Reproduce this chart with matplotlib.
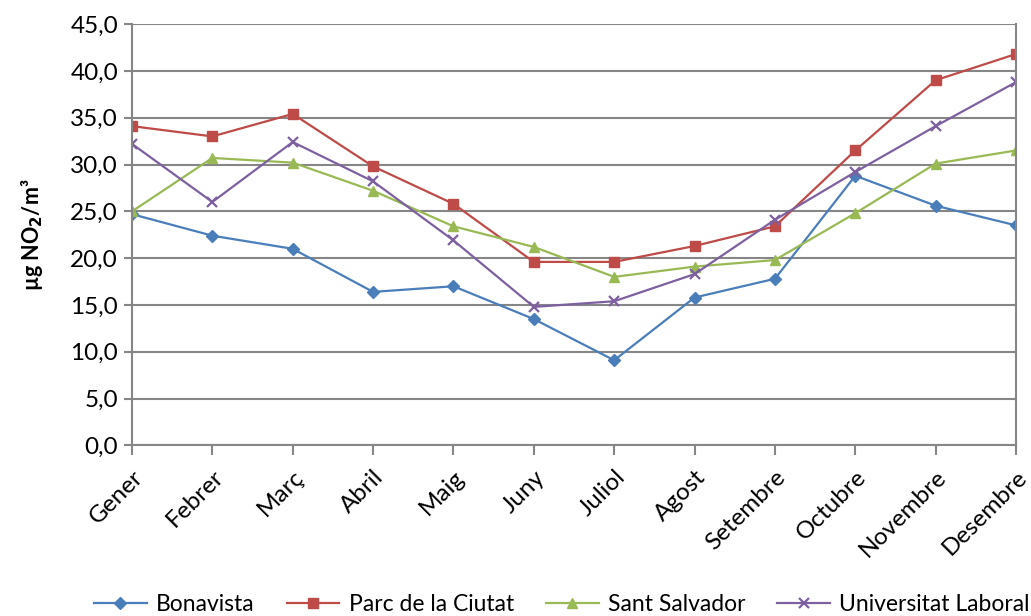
import numpy as np
import matplotlib.pyplot as plt

months = ['Gener', 'Febrer', 'Març', 'Abril', 'Maig', 'Juny', 'Juliol',
          'Agost', 'Setembre', 'Octubre', 'Novembre', 'Desembre']
bonavista = [24.7, 22.4, 21.0, 16.4, 17.0, 13.5, 9.1, 15.8, 17.8, 28.8, 25.6, 23.5]
parc = [34.1, 33.0, 35.4, 29.8, 25.8, 19.6, 19.6, 21.3, 23.4, 31.5, 39.0, 41.8]
salvador = [25.0, 30.7, 30.2, 27.2, 23.4, 21.2, 18.0, 19.1, 19.8, 24.8, 30.1, 31.5]
laboral = [32.2, 26.0, 32.4, 28.2, 21.9, 14.8, 15.4, 18.3, 24.1, 29.2, 34.1, 38.8]
yticks = np.arange(0, 46, 5)

plt.rcParams['font.family'] = ['Lato', 'DejaVu Sans']

fig = plt.figure(figsize=(10.31, 6.16), dpi=100)
ax = fig.add_axes([0.128, 0.2768, 0.8575, 0.6842])

x = np.arange(len(months))
ax.plot(x, bonavista, color='#4A7EBB', marker='D', ms=6, lw=1.6, label='Bonavista')
ax.plot(x, parc, color='#BE4B48', marker='s', ms=7, lw=1.6, label='Parc de la Ciutat')
ax.plot(x, salvador, color='#98B954', marker='^', ms=7.5, lw=1.6, label='Sant Salvador')
ax.plot(x, laboral, color='#7D60A0', marker='x', ms=7, mew=1.6, lw=1.6, label='Universitat Laboral')

ax.set_xlim(0, 11)
ax.set_ylim(0, 45)
ax.set_yticks(yticks)
ax.set_yticklabels([f'{v:.1f}'.replace('.', ',') for v in yticks], fontsize=17.5)
ax.set_xticks(x)
ax.set_xticklabels(months, rotation=45, ha='right', rotation_mode='anchor', fontsize=17.5)

ax.yaxis.grid(True, color='#868686', lw=1.5)
ax.set_axisbelow(True)
for side in ['left', 'right', 'bottom']:
    ax.spines[side].set_color('#868686')
    ax.spines[side].set_linewidth(1.5)
ax.spines['top'].set_visible(False)
ax.tick_params(axis='both', color='#868686', width=1.5, direction='out')
ax.tick_params(axis='x', length=7, pad=8)
ax.tick_params(axis='y', length=6, pad=4)

ax.set_ylabel('µg NO$_\\mathbf{2}$/m³', fontsize=15.5, fontweight='bold', labelpad=18)

fig.legend(loc='center', ncol=4, bbox_to_anchor=(0.545, 0.018), frameon=False,
           fontsize=16.5, handlelength=2.3, columnspacing=1.4, handletextpad=0.4)

fig.savefig('out.png', dpi=100)
